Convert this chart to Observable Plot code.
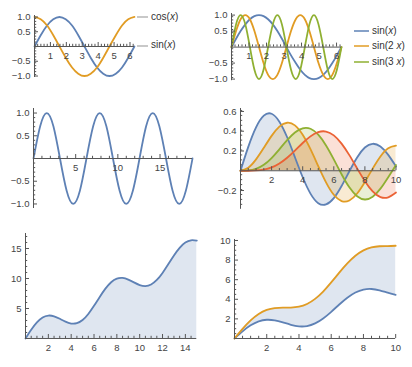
<!DOCTYPE html>
<html><head><meta charset="utf-8">
<script src="https://cdn.jsdelivr.net/npm/d3@7"></script>
<script src="https://cdn.jsdelivr.net/npm/@observablehq/plot@0.6"></script>
<style>
body{margin:0;background:#fff;}
#root{position:relative;width:412px;height:367px;overflow:hidden;font-family:"Liberation Sans",Arial,sans-serif;background:#fff;}
.p{position:absolute;}
.p svg{overflow:visible;}
.lg{position:absolute;font-size:10px;color:#333;line-height:10px;white-space:nowrap;}
.ll{position:absolute;height:2px;}
</style></head><body><div id="root"></div>
<script>
// ---- Data ----
// Panel 1: sin(x), cos(x) on [0, 2π]
const xs1 = [0,0.39,0.79,1.18,1.57,1.96,2.36,2.75,3.14,3.53,3.93,4.32,4.71,5.11,5.50,5.89,6.28];
const sin1 = [0,0.38,0.71,0.92,1,0.92,0.71,0.38,0,-0.38,-0.71,-0.92,-1,-0.92,-0.71,-0.38,0];
const cos1 = [1,0.92,0.71,0.38,0,-0.38,-0.71,-0.92,-1,-0.92,-0.71,-0.38,0,0.38,0.71,0.92,1];
// Panel 2: sin(x), sin(2x), sin(3x)
const xs2 = [0,0.26,0.52,0.79,1.05,1.31,1.57,1.83,2.09,2.36,2.62,2.88,3.14,3.40,3.67,3.93,4.19,4.45,4.71,4.97,5.24,5.50,5.76,6.02,6.28];
const sinA = [0,0.26,0.5,0.71,0.87,0.97,1,0.97,0.87,0.71,0.5,0.26,0,-0.26,-0.5,-0.71,-0.87,-0.97,-1,-0.97,-0.87,-0.71,-0.5,-0.26,0];
const sinB = [0,0.5,0.87,1,0.87,0.5,0,-0.5,-0.87,-1,-0.87,-0.5,0,0.5,0.87,1,0.87,0.5,0,-0.5,-0.87,-1,-0.87,-0.5,0];
const sinC = [0,0.71,1,0.71,0,-0.71,-1,-0.71,0,0.71,1,0.71,0,-0.71,-1,-0.71,0,0.71,1,0.71,0,-0.71,-1,-0.71,0];
const legend2 = ["sin(<i>x</i>)","sin(2 <i>x</i>)","sin(3 <i>x</i>)"];
// Panel 3: sin(x) on [0, 6π]
const xs3 = [0,0.79,1.57,2.36,3.14,3.93,4.71,5.50,6.28,7.07,7.85,8.64,9.42,10.21,10.99,11.78,12.57,13.35,14.14,14.92,15.71,16.49,17.28,18.06,18.85];
const ys3 = [0,0.71,1,0.71,0,-0.71,-1,-0.71,0,0.71,1,0.71,0,-0.71,-1,-0.71,0,0.71,1,0.71,0,-0.71,-1,-0.71,0];
// Panel 4: four filled curves on [0, 10]
const xs4 = [0,0.5,1,1.5,2,2.5,3,3.5,4,4.5,5,5.5,6,6.5,7,7.5,8,8.5,9,9.5,10];
const c4a = [0,0.242,0.440,0.558,0.577,0.497,0.339,0.137,-0.066,-0.231,-0.328,-0.341,-0.277,-0.154,-0.005,0.135,0.235,0.273,0.245,0.161,0.044];
const c4b = [0,0.031,0.115,0.232,0.353,0.446,0.486,0.459,0.364,0.218,0.047,-0.117,-0.243,-0.307,-0.301,-0.230,-0.113,0.022,0.145,0.228,0.255];
const c4c = [0,0.003,0.020,0.061,0.129,0.217,0.309,0.387,0.430,0.425,0.365,0.256,0.115,-0.035,-0.168,-0.258,-0.291,-0.263,-0.181,-0.065,0.058];
const c4d = [0,0.000,0.003,0.012,0.034,0.074,0.132,0.204,0.281,0.348,0.391,0.397,0.358,0.275,0.158,0.024,-0.105,-0.208,-0.266,-0.269,-0.220];
// Panel 5: filled curve on [0, 15]
const xs5 = [0,0.5,1,1.5,2,2.5,3,3.5,4,4.5,5,5.5,6,6.5,7,7.5,8,8.5,9,9.5,10,10.5,11,11.5,12,12.5,13,13.5,14,14.5,15];
const ys5 = [0,1.46,2.68,3.50,3.82,3.70,3.28,2.80,2.49,2.55,3.08,4.09,5.44,6.93,8.31,9.38,9.98,10.10,9.82,9.35,8.91,8.74,9.00,9.75,10.93,12.37,13.84,15.11,15.98,16.37,16.30];
// Panel 6: band between two curves on [0, 10]
const xs6 = [0,0.5,1,1.5,2,2.5,3,3.5,4,4.5,5,5.5,6,6.5,7,7.5,8,8.5,9,9.5,10];
const lo6 = [0,0.73,1.34,1.75,1.91,1.85,1.64,1.40,1.24,1.27,1.54,2.04,2.72,3.47,4.16,4.69,4.99,5.05,4.91,4.68,4.46];
const hi6 = [0,0.98,1.84,2.50,2.91,3.10,3.14,3.15,3.24,3.52,4.04,4.79,5.72,6.72,7.66,8.44,8.99,9.30,9.41,9.43,9.46];

// tick values
const tk1x=[1,2,3,4,5,6], tk1y=[-1,-0.5,0.5,1];
const tk3x=[5,10,15];
const tk4x=[2,4,6,8,10], tk4y=[-0.2,0.2,0.4,0.6];
const tk5x=[2,4,6,8,10,12,14], tk5y=[5,10,15];
const tk6x=[2,4,6,8,10], tk6y=[2,4,6,8,10];

// ---- Styling ----
const BLUE="#5E81B5", ORANGE="#E19C24", GREEN="#8FB032", RED="#EB6235";
const AX="#555", LBL="#444", FS=9.5;
const root=document.getElementById("root");
const minus=s=>s.replace("-","\u2212");
const f1=d=>minus(d.toFixed(1)), f0=d=>minus(String(d));
function minor(d0,d1,step,maj){
  const out=[];for(let v=d0+step;v<d1-1e-9;v+=step){const r=Math.round(v*1000)/1000;if(r!==0&&!maj.some(m=>Math.abs(m-r)<1e-6))out.push(r);}return out;
}
function panel(c){
  const mL=34,mR=12,mT=8,mB=18;
  const w=c.px1-c.px0, h=c.py1-c.py0;
  const ux=(c.xd[1]-c.xd[0])/w, uy=(c.yd[1]-c.yd[0])/h;
  const xmin=minor(c.xd[0],c.xd[1],c.xs,c.xmaj), ymin=minor(c.yd[0],c.yd[1],c.ys,c.ymaj);
  const marks=[
    ...c.marks,
    Plot.ruleY([0],{x1:c.xd[0],x2:c.xd[1],stroke:AX,strokeWidth:1}),
    Plot.ruleX([0],{y1:c.yd[0],y2:c.yd[1],stroke:AX,strokeWidth:1}),
    Plot.ruleX(c.xmaj,{x:d=>d,y1:0,y2:4*uy,stroke:AX}),
    Plot.ruleX(xmin,{x:d=>d,y1:0,y2:2.2*uy,stroke:AX}),
    Plot.ruleY(c.ymaj,{y:d=>d,x1:0,x2:4*ux,stroke:AX}),
    Plot.ruleY(ymin,{y:d=>d,x1:0,x2:2.2*ux,stroke:AX}),
    Plot.text(c.xmaj,{x:d=>d,y:0,dy:9,text:c.xfmt,fill:LBL,fontSize:FS}),
    Plot.text(c.ymaj,{x:0,y:d=>d,dx:-4,textAnchor:"end",text:c.yfmt,fill:LBL,fontSize:FS})
  ];
  const svg=Plot.plot({width:w+mL+mR,height:h+mT+mB,marginLeft:mL,marginRight:mR,marginTop:mT,marginBottom:mB,
    x:{domain:c.xd,axis:null},y:{domain:c.yd,axis:null},
    style:{background:"transparent",overflow:"visible",fontFamily:"Liberation Sans, Arial, sans-serif"},marks});
  const d=document.createElement("div");d.className="p";
  d.style.left=(c.px0-mL)+"px";d.style.top=(c.py0-mT)+"px";
  d.appendChild(svg);root.appendChild(d);
}
const L=(arr,xs,color,extra={})=>Plot.line(arr,{x:(d,i)=>xs[i],y:d=>d,stroke:color,strokeWidth:1.8,curve:"natural",...extra});
const A=(arr,xs,color)=>Plot.areaY(arr,{x:(d,i)=>xs[i],y:d=>d,fill:color,fillOpacity:0.2,curve:"natural"});

// Panel 1
panel({xd:[0,6.2832],yd:[-1.05,1.05],px0:34,px1:134,py0:14.5,py1:76.5,
  xmaj:tk1x,xs:0.2,ymaj:tk1y,ys:0.1,xfmt:f0,yfmt:f1,
  marks:[L(sin1,xs1,BLUE),L(cos1,xs1,ORANGE)]});
// Panel 2
panel({xd:[0,6.2832],yd:[-1.05,1.05],px0:231,px1:341,py0:12.9,py1:80.1,
  xmaj:tk1x,xs:0.2,ymaj:tk1y,ys:0.1,xfmt:f0,yfmt:f1,
  marks:[L(sinA,xs2,BLUE),L(sinB,xs2,ORANGE),L(sinC,xs2,GREEN)]});
// Panel 3
panel({xd:[0,18.85],yd:[-1.1,1.1],px0:33,px1:192,py0:107.5,py1:207.5,
  xmaj:tk3x,xs:1,ymaj:tk1y,ys:0.1,xfmt:f0,yfmt:f1,
  marks:[L(ys3,xs3,BLUE)]});
// Panel 4
panel({xd:[0,10],yd:[-0.39,0.63],px0:239.5,px1:395,py0:108,py1:208.8,
  xmaj:tk4x,xs:0.5,ymaj:tk4y,ys:0.05,xfmt:f0,yfmt:f1,
  marks:[A(c4a,xs4,BLUE),A(c4b,xs4,ORANGE),A(c4c,xs4,GREEN),A(c4d,xs4,RED),
         L(c4a,xs4,BLUE),L(c4b,xs4,ORANGE),L(c4c,xs4,GREEN),L(c4d,xs4,RED)]});
// Panel 5
panel({xd:[0,15],yd:[0,17.5],px0:25.2,px1:196.5,py0:233,py1:338,
  xmaj:tk5x,xs:0.5,ymaj:tk5y,ys:1,xfmt:f0,yfmt:f0,
  marks:[A(ys5,xs5,BLUE),L(ys5,xs5,BLUE)]});
// Panel 6
panel({xd:[0,10],yd:[0,10.1],px0:233.8,px1:395,py0:239,py1:338,
  xmaj:tk6x,xs:0.5,ymaj:tk6y,ys:0.5,xfmt:f0,yfmt:f0,
  marks:[Plot.areaY(lo6,{x:(d,i)=>xs6[i],y1:d=>d,y2:(d,i)=>hi6[i],fill:BLUE,fillOpacity:0.2,curve:"natural"}),
         L(lo6,xs6,BLUE),L(hi6,xs6,ORANGE)]});

// Legends (HTML text)
function leg(x1,x2,y,color,html,op){
  const l=document.createElement("div");l.className="ll";
  l.style.left=x1+"px";l.style.width=(x2-x1)+"px";l.style.top=(y-1)+"px";l.style.background=color;l.style.opacity=op;
  root.appendChild(l);
  const t=document.createElement("div");t.className="lg";t.innerHTML=html;
  t.style.left=(x2+3)+"px";t.style.top=(y-5.5)+"px";root.appendChild(t);
}
leg(137,148,17,"#c8c8c8","cos(<i>x</i>)",1);
leg(137,148,45.7,"#c8c8c8","sin(<i>x</i>)",1);
[BLUE,ORANGE,GREEN].forEach((c,i)=>leg(354,369,[31,46,62][i],c,legend2[i],0.75));
</script></body></html>
